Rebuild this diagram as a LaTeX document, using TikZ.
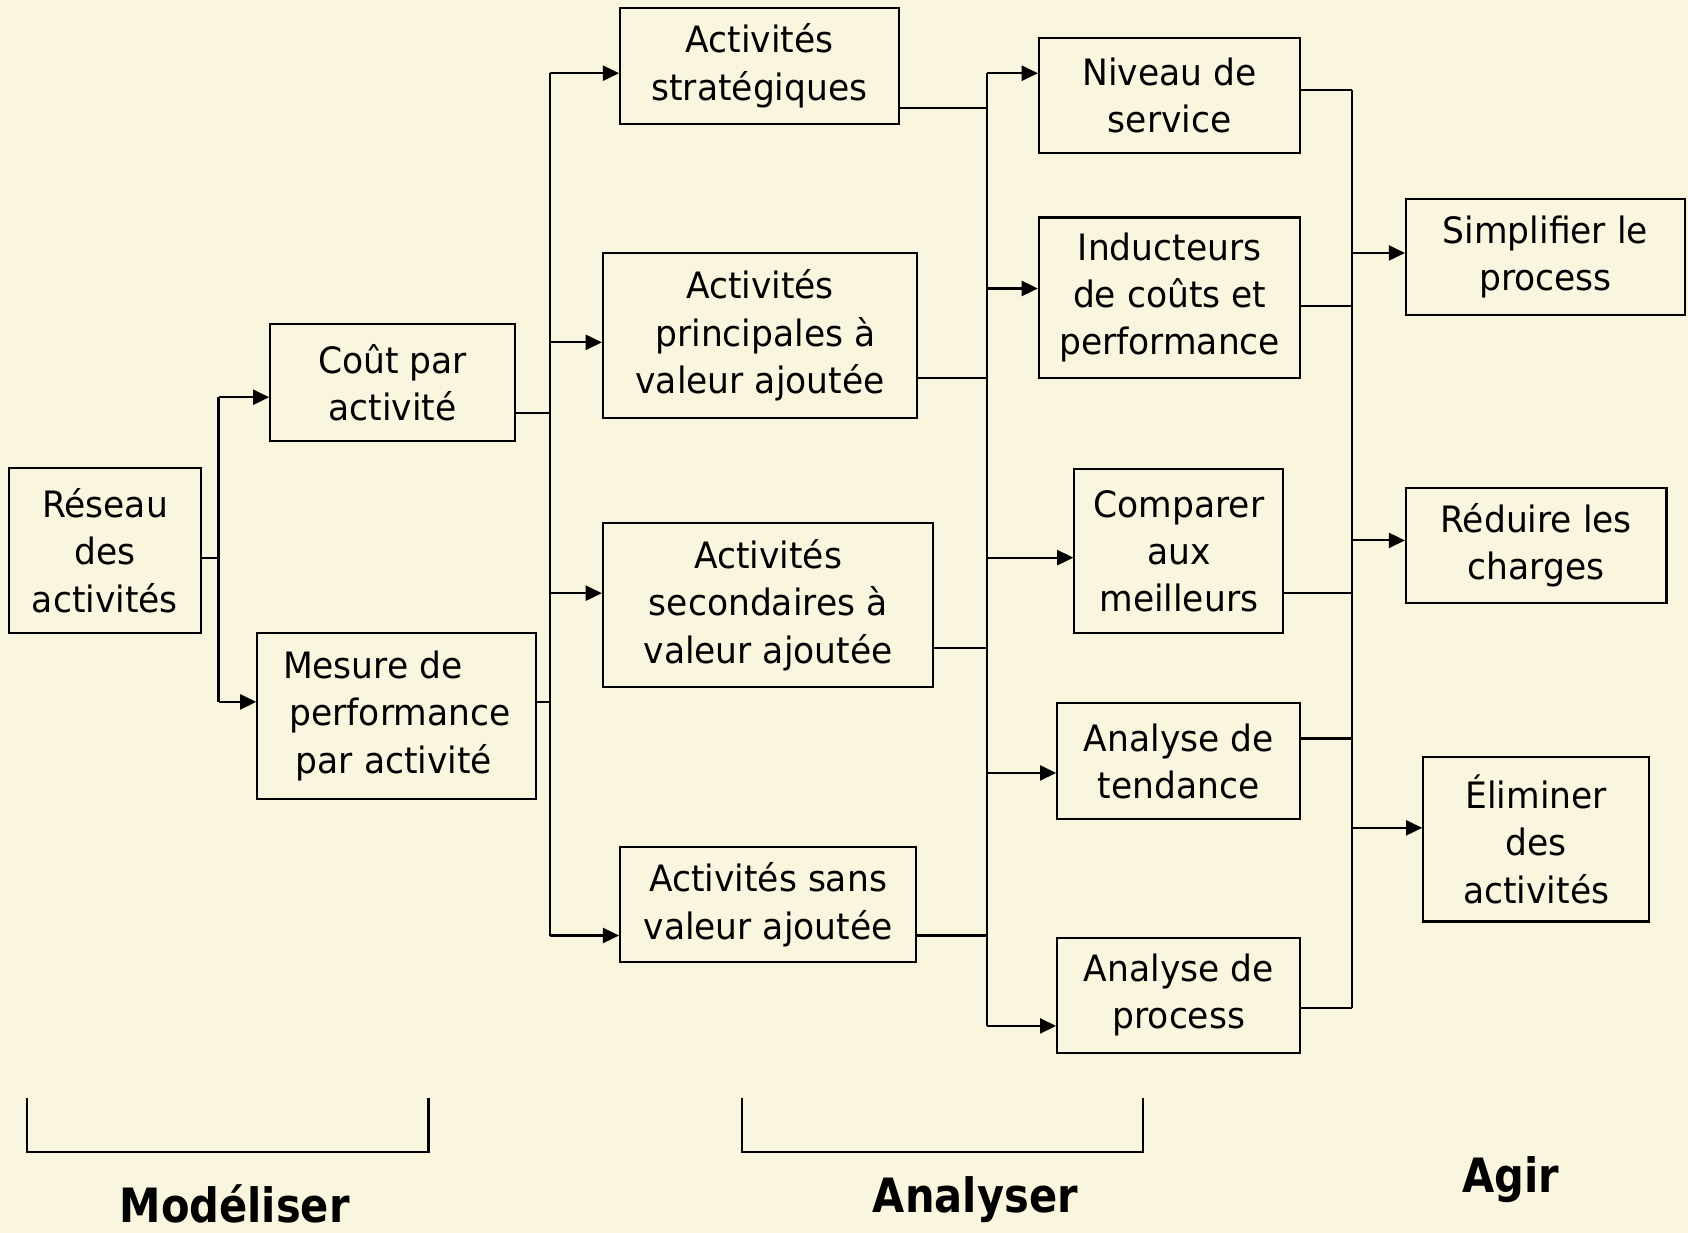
\documentclass[tikz,border=0pt]{standalone}
\usepackage{fontspec}
\setmainfont{DejaVu Sans}[FakeStretch=0.95]
\newfontfamily\lblfont{DejaVu Sans}[FakeStretch=0.88]
\usetikzlibrary{arrows.meta}
\definecolor{bgcream}{RGB}{250,245,223}
\begin{document}
\begin{tikzpicture}[x=0.02cm,y=-0.02cm,
  box/.style={draw=black,line width=1.1pt,inner sep=0pt,align=center,
    font=\fontsize{19.2}{25}\selectfont},
  wire/.style={line width=1.1pt},
  arr/.style={line width=1.1pt,-{Triangle[length=0.3cm,width=0.28cm]}},
  lbl/.style={anchor=base,font=\lblfont\bfseries\fontsize{25}{30}\selectfont}]
\fill[bgcream] (0,0) rectangle (1568,1145);
\useasboundingbox (0,0) rectangle (1568,1145);
% column 1
\node[box,minimum width=3.58cm,minimum height=3.06cm] (res) at (97.5,511.5) {Réseau\\des\\activités};
% column 2
\node[box,minimum width=4.54cm,minimum height=2.18cm] (cout) at (364.5,355.5) {Coût par\\activité};
\node[box,minimum width=5.18cm,minimum height=3.08cm,align=left] (mes) at (368.5,665) {Mesure de\\\hspace{0.12cm}performance\\\hspace{0.24cm}par activité};
% column 3
\node[box,minimum width=5.18cm,minimum height=2.16cm] (strat) at (705.5,61) {Activités\\stratégiques};
\node[box,minimum width=5.84cm,minimum height=3.06cm] (princ) at (706,311.5) {Activités\\\hspace{0.2cm}principales à\\valeur ajoutée};
\node[box,minimum width=6.14cm,minimum height=3.04cm] (sec) at (713.5,562) {Activités\\secondaires à\\valeur ajoutée};
\node[box,minimum width=5.50cm,minimum height=2.14cm] (sans) at (713.5,840.5) {Activités sans\\valeur ajoutée};
% column 4
\node[box,minimum width=4.86cm,minimum height=2.14cm] (niv) at (1086.5,88.5) {Niveau de\\service};
\node[box,minimum width=4.86cm,minimum height=2.98cm] (ind) at (1086.5,276.5) {Inducteurs\\de coûts et\\performance};
\node[box,minimum width=3.88cm,minimum height=3.04cm] (comp) at (1095,512) {Comparer\\aux\\meilleurs};
\node[box,minimum width=4.52cm,minimum height=2.16cm] (tend) at (1095,707) {Analyse de\\tendance};
\node[box,minimum width=4.52cm,minimum height=2.14cm] (proc) at (1095,924.5) {Analyse de\\process};
% column 5
\node[box,minimum width=5.18cm,minimum height=2.16cm] (simp) at (1435.5,239) {Simplifier le\\process};
\node[box,minimum width=4.84cm,minimum height=2.14cm] (red) at (1427,506.5) {Réduire les\\charges};
\node[box,minimum width=4.20cm,minimum height=3.06cm] (elim) at (1427,779.5) {Éliminer\\des\\activités};
% bus 1
\coordinate (b1t) at (203,369);
\coordinate (b1m) at (203,518);
\coordinate (b1b) at (203,652);
\draw[wire] (b1m -| res.east) -- (b1m);
\draw[wire] (b1t) -- (b1b);
\draw[arr] (b1t) -- (b1t -| cout.west);
\draw[arr] (b1b) -- (b1b -| mes.west);
% bus 2
\coordinate (b2a) at (511,68);
\coordinate (b2b) at (511,318);
\coordinate (b2c) at (511,551);
\coordinate (b2d) at (511,869);
\coordinate (b2i) at (511,384);
\coordinate (b2j) at (511,652);
\draw[wire] (b2i -| cout.east) -- (b2i);
\draw[wire] (b2j -| mes.east) -- (b2j);
\draw[wire] (b2a) -- (b2d);
\draw[arr] (b2a) -- (b2a -| strat.west);
\draw[arr] (b2b) -- (b2b -| princ.west);
\draw[arr] (b2c) -- (b2c -| sec.west);
\draw[arr] (b2d) -- (b2d -| sans.west);
% bus 3
\coordinate (b3a) at (917,68);
\coordinate (b3b) at (917,268);
\coordinate (b3c) at (917,518);
\coordinate (b3d) at (917,718);
\coordinate (b3e) at (917,953);
\coordinate (b3i) at (917,100);
\coordinate (b3j) at (917,351);
\coordinate (b3k) at (917,602);
\coordinate (b3l) at (917,869);
\draw[wire] (b3i -| strat.east) -- (b3i);
\draw[wire] (b3j -| princ.east) -- (b3j);
\draw[wire] (b3k -| sec.east) -- (b3k);
\draw[wire] (b3l -| sans.east) -- (b3l);
\draw[wire] (b3a) -- (b3e);
\draw[arr] (b3a) -- (b3a -| niv.west);
\draw[arr] (b3b) -- (b3b -| ind.west);
\draw[arr] (b3c) -- (b3c -| comp.west);
\draw[arr] (b3d) -- (b3d -| tend.west);
\draw[arr] (b3e) -- (b3e -| proc.west);
% bus 4
\coordinate (b4i) at (1256,84);
\coordinate (b4j) at (1256,284);
\coordinate (b4k) at (1256,551);
\coordinate (b4l) at (1256,686);
\coordinate (b4m) at (1256,936);
\coordinate (b4a) at (1256,235);
\coordinate (b4b) at (1256,502);
\coordinate (b4c) at (1256,769);
\draw[wire] (b4i -| niv.east) -- (b4i);
\draw[wire] (b4j -| ind.east) -- (b4j);
\draw[wire] (b4k -| comp.east) -- (b4k);
\draw[wire] (b4l -| tend.east) -- (b4l);
\draw[wire] (b4m -| proc.east) -- (b4m);
\draw[wire] (b4i) -- (b4m);
\draw[arr] (b4a) -- (b4a -| simp.west);
\draw[arr] (b4b) -- (b4b -| red.west);
\draw[arr] (b4c) -- (b4c -| elim.west);
% brackets
\draw[wire] (25,1020) -- (25,1070) -- (398,1070) -- (398,1020);
\draw[wire] (689,1020) -- (689,1070) -- (1062,1070) -- (1062,1020);
% phase labels
\node[lbl] (modl) at (218,1136) {Modéliser};
\node[lbl] (anal) at (906,1126) {Analyser};
\node[lbl] (agir) at (1403,1108) {Agir};
\end{tikzpicture}
\end{document}
